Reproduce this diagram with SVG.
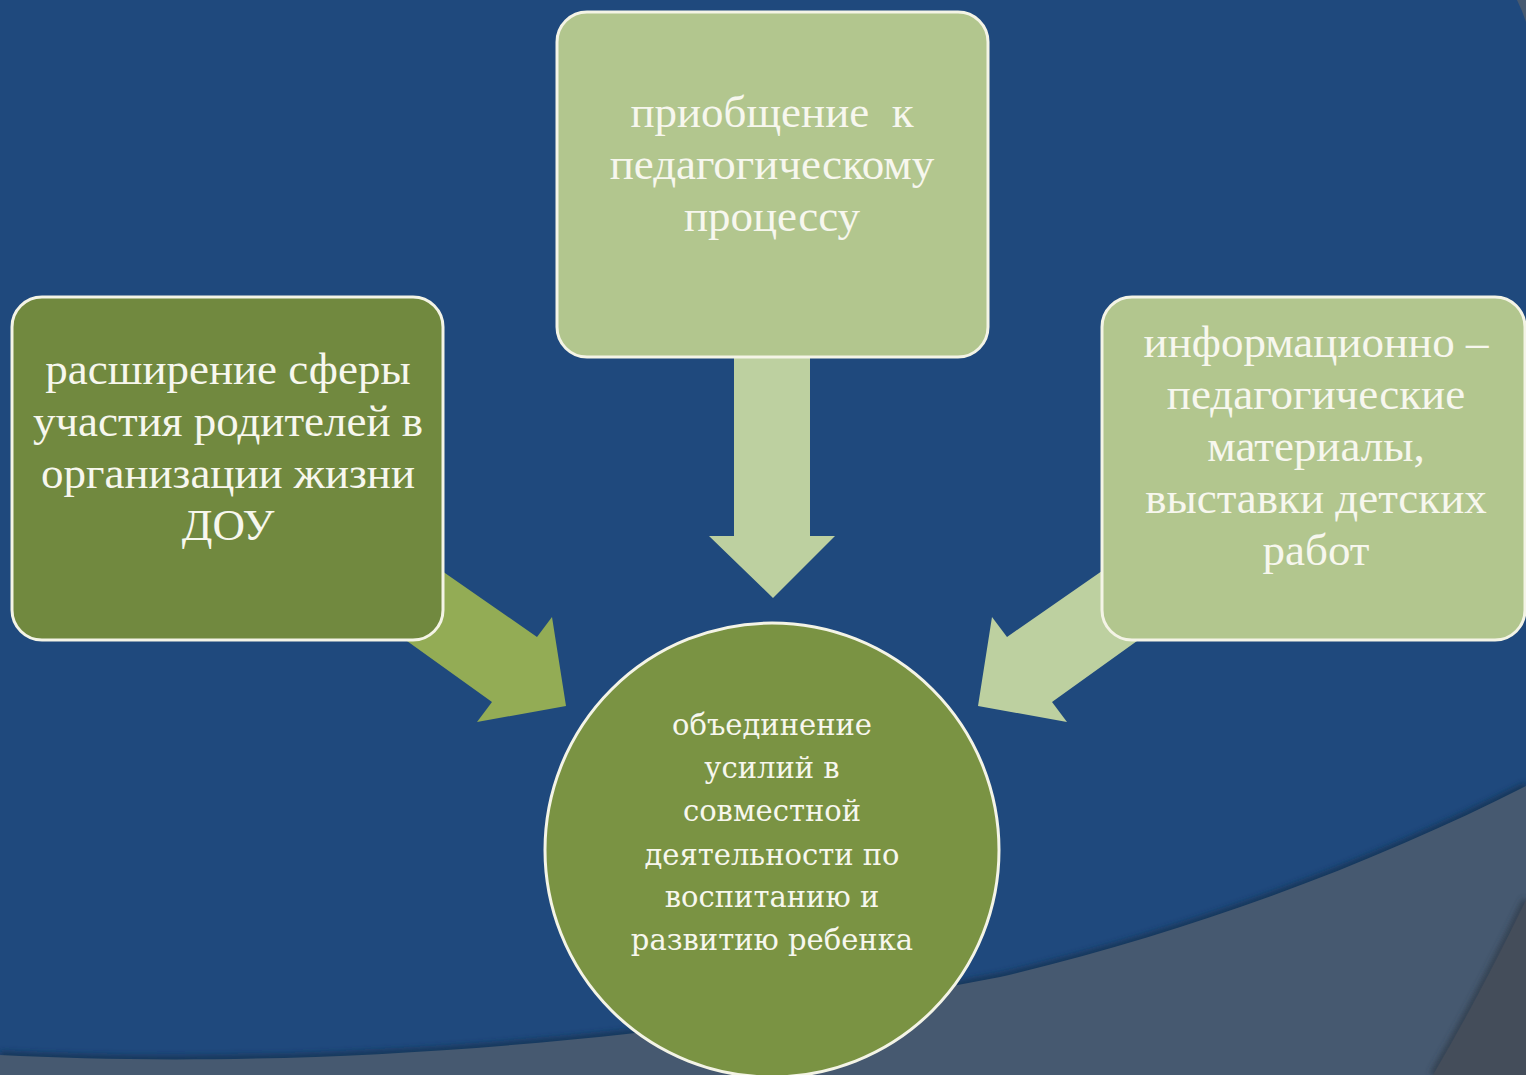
<svg xmlns="http://www.w3.org/2000/svg" width="1526" height="1075" viewBox="0 0 1526 1075">
  <style>
    .box { stroke: #F4F4E6; stroke-width: 3; }
    .t { font-family: "Liberation Serif", "Times New Roman", serif; font-size: 45px; fill: #F7F7EE; text-anchor: middle; }
    .c { font-family: "DejaVu Serif", "Liberation Serif", serif; font-size: 29px; fill: #F7F7EE; text-anchor: middle; }
  </style>
  <defs>
    <filter id="sh" x="-10%" y="-10%" width="120%" height="120%">
      <feGaussianBlur stdDeviation="3"/>
    </filter>
  </defs>
  <!-- background -->
  <rect x="0" y="0" width="1526" height="1075" fill="#1F497D"/>
  <path d="M0,1055 C250,1068 600,1055 1000,977 C1200,930 1380,860 1526,786" fill="none" stroke="#14304F" stroke-width="6" filter="url(#sh)"/>
  <path d="M0,1055 C250,1068 600,1055 1000,977 C1200,930 1380,860 1526,786 L1526,1075 L0,1075 Z" fill="#465970"/>
  <path d="M1433,1075 Q1480,995 1526,900" fill="none" stroke="#2f3a48" stroke-width="6" filter="url(#sh)"/>
  <path d="M1433,1075 Q1480,995 1526,900 L1526,1075 Z" fill="#444D5A"/>
  <path d="M1517,0 Q1522,10 1526,22 L1526,0 Z" fill="#465970"/>

  <g id="connectors">
    <polygon id="arrow-left" points="396,539 537,637 552,617 566,706 477,722 492,702 361,608" fill="#93AC55"/>
    <polygon id="arrow-top" points="734,350 810,350 810,536 835,536 773,598 709,536 734,536" fill="#BDD0A0"/>
    <polygon id="arrow-right" points="1148,539 1007,637 992,617 978,706 1067,722 1052,702 1183,608" fill="#BDD0A0"/>
  </g>

  <g id="node-left">
    <rect class="box" x="12" y="297" width="431" height="343" rx="30" fill="#71893F"/>
    <text class="t" x="228" y="384">расширение сферы</text>
    <text class="t" x="228" y="436">участия родителей в</text>
    <text class="t" x="228" y="488">организации жизни</text>
    <text class="t" x="228" y="540">ДОУ</text>
  </g>

  <g id="node-top">
    <rect class="box" x="557" y="12" width="431" height="345" rx="30" fill="#B2C68E"/>
    <text class="t" x="772" y="127" xml:space="preserve">приобщение  к</text>
    <text class="t" x="772" y="179">педагогическому</text>
    <text class="t" x="772" y="231">процессу</text>
  </g>

  <g id="node-right">
    <rect class="box" x="1102" y="297" width="423" height="343" rx="30" fill="#B2C68E"/>
    <text class="t" x="1316" y="357">информационно –</text>
    <text class="t" x="1316" y="409">педагогические</text>
    <text class="t" x="1316" y="461">материалы,</text>
    <text class="t" x="1316" y="513">выставки детских</text>
    <text class="t" x="1316" y="565">работ</text>
  </g>

  <g id="node-center">
    <circle class="box" cx="772" cy="850" r="227" fill="#7A9343"/>
    <text class="c" x="772" y="735">объединение</text>
    <text class="c" x="772" y="778">усилий в</text>
    <text class="c" x="772" y="821">совместной</text>
    <text class="c" x="772" y="865">деятельности по</text>
    <text class="c" x="772" y="907">воспитанию и</text>
    <text class="c" x="772" y="950">развитию ребенка</text>
  </g>
</svg>
